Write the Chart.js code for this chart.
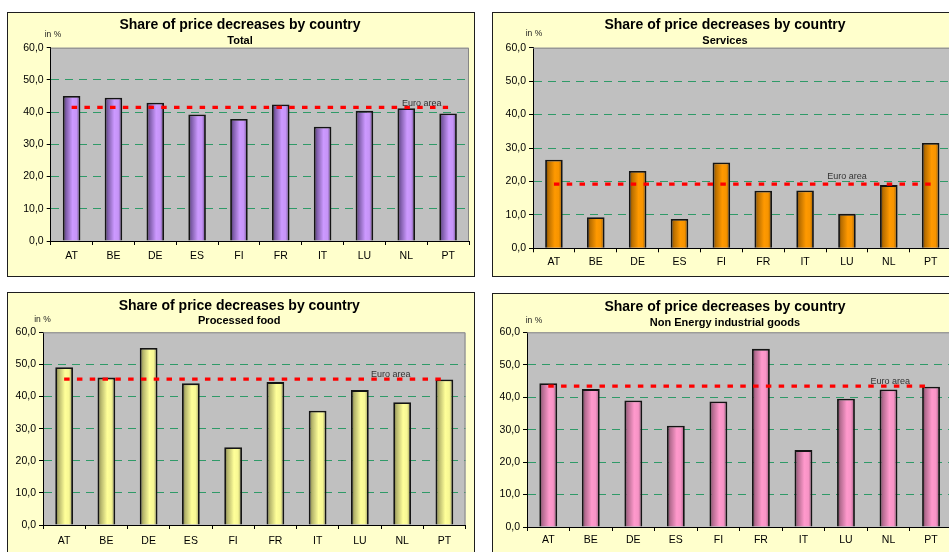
<!DOCTYPE html>
<html>
<head>
<meta charset="utf-8">
<script src="https://cdn.jsdelivr.net/npm/chart.js@4/dist/chart.umd.min.js"></script>
<style>
  html, body { margin: 0; padding: 0; background: #ffffff; overflow: hidden; }
  body { width: 949px; height: 552px; position: relative; font-family: "Liberation Sans", Arial, sans-serif; }
  .panel { position: absolute; box-sizing: border-box; border: 1px solid #1e1e1e; background: #ffffcc; }
  .panel .box { position: absolute; left: -1px; top: -1px; }
  .txt { position: absolute; transform: translate(-50%, -50%); white-space: nowrap; color: #000; }
  .title { font-weight: bold; font-size: 14px; }
  .sub { font-weight: bold; font-size: 11px; }
  .unit { font-size: 8.5px; color: #222; }
</style>
</head>
<body>
<script>
// Share of price decreases by country, four product groups
const countries = ['AT', 'BE', 'DE', 'ES', 'FI', 'FR', 'IT', 'LU', 'NL', 'PT'];
const yTickValues = [0, 10, 20, 30, 40, 50, 60];

const totalShares         = [45.0, 44.5, 42.9, 39.3, 37.9, 42.4, 35.5, 40.4, 41.2, 39.6];
const totalEuroArea       = [41.5];

const servicesShares      = [26.5, 9.3, 23.1, 8.8, 25.7, 17.2, 17.3, 10.3, 18.9, 31.5];
const servicesEuroArea    = [19.2];

const processedFoodShares = [49.1, 45.9, 55.1, 44.1, 24.2, 44.5, 35.6, 42.0, 38.2, 45.3];
const processedFoodEuroArea = [45.4];

const nonEnergyShares     = [44.3, 42.5, 39.0, 31.2, 38.7, 54.9, 23.7, 39.5, 42.4, 43.2];
const nonEnergyEuroArea   = [43.4];

const BAR_RATIO = 0.42;

// cylinder-like horizontal shading for each bar
function barFill(stops) {
  return (c) => {
    const chart = c.chart;
    const xs = chart.scales && chart.scales.x;
    if (c.type !== 'data' || !xs) return stops[2][1];
    const cx = xs.getPixelForValue(c.dataIndex);
    const half = (xs.width / countries.length) * BAR_RATIO / 2;
    if (!isFinite(cx) || !isFinite(half) || half <= 0) return stops[2][1];
    const g = chart.ctx.createLinearGradient(cx - half, 0, cx + half, 0);
    stops.forEach(([p, col]) => g.addColorStop(p, col));
    return g;
  };
}

const palettes = {
  purple: [[0, '#3f2a55'], [0.18, '#7d5ca8'], [0.55, '#cc99ff'], [0.78, '#c694f7'], [1, '#5e4680']],
  orange: [[0, '#5c3300'], [0.18, '#b86e00'], [0.55, '#ff9900'], [0.78, '#f79400'], [1, '#8a5200']],
  yellow: [[0, '#5e5e2e'], [0.18, '#b3b36b'], [0.55, '#ffff99'], [0.78, '#f7f794'], [1, '#8a8a52']],
  pink:   [[0, '#5c3347'], [0.18, '#b36b8f'], [0.55, '#ff99cc'], [0.78, '#f794c6'], [1, '#8a5270']]
};

// grey plot area with frame on the top and right edges
const plotFrame = {
  id: 'plotFrame',
  beforeDraw(chart) {
    const { ctx, chartArea: a } = chart;
    ctx.save();
    ctx.fillStyle = '#c0c0c0';
    ctx.fillRect(a.left, a.top, a.right - a.left, a.bottom - a.top);
    ctx.restore();
  },
  beforeDatasetsDraw(chart) {
    const { ctx, chartArea: a } = chart;
    ctx.save();
    ctx.strokeStyle = '#858585';
    ctx.lineWidth = 1;
    ctx.beginPath();
    ctx.moveTo(a.left, a.top + 0.5);
    ctx.lineTo(a.right - 0.5, a.top + 0.5);
    ctx.lineTo(a.right - 0.5, a.bottom);
    ctx.stroke();
    ctx.restore();
  }
};

// "Euro area" caption next to the average line
const euroLabel = {
  id: 'euroLabel',
  afterDatasetsDraw(chart, args, opts) {
    const xs = chart.scales.x, ys = chart.scales.y;
    const value = chart.data.datasets[0].data[0].y;
    const step = xs.width / countries.length;
    const x = xs.getPixelForValue(0) + opts.at * step;
    const y = ys.getPixelForValue(value) + opts.dy;
    const ctx = chart.ctx;
    ctx.save();
    ctx.font = '9px "Liberation Sans", Arial, sans-serif';
    ctx.fillStyle = '#333';
    ctx.textAlign = 'center';
    ctx.textBaseline = 'middle';
    ctx.fillText('Euro area', x, y);
    ctx.restore();
  }
};

function fmt(v) { return v.toFixed(1).replace('.', ','); }

function makePanel(p) {
  const panel = document.createElement('div');
  panel.className = 'panel';
  panel.style.left = p.left + 'px';
  panel.style.top = p.top + 'px';
  panel.style.width = p.w + 'px';
  panel.style.height = p.h + 'px';
  document.body.appendChild(panel);

  const box = document.createElement('div');
  box.className = 'box';
  box.style.width = p.w + 'px';
  box.style.height = p.h + 'px';
  const cv = document.createElement('canvas');
  box.appendChild(cv);
  panel.appendChild(box);

  const addText = (cls, text, x, y) => {
    const d = document.createElement('div');
    d.className = 'txt ' + cls;
    d.textContent = text;
    d.style.left = (x - p.left) + 'px';
    d.style.top = (y - p.top) + 'px';
    box.appendChild(d);
  };
  addText('title', 'Share of price decreases by country', p.titleX, p.titleY);
  addText('sub', p.subtitle, p.titleX, p.subY);
  addText('unit', 'in %', p.unitX, p.unitY);

  const tickFont = { family: '"Liberation Sans", Arial, sans-serif', size: 10.5 };

  new Chart(cv, {
    type: 'bar',
    data: {
      labels: countries,
      datasets: [
        {
          type: 'line',
          label: 'Euro area',
          data: [{ x: countries[0], y: p.euro[0] }, { x: countries[countries.length - 1], y: p.euro[0] }],
          borderColor: '#ff0000',
          borderWidth: 3.2,
          borderDash: [5.5, 7.3],
          borderCapStyle: 'butt',
          pointRadius: 0,
          fill: false,
          order: 0
        },
        {
          label: p.subtitle,
          data: p.values,
          backgroundColor: barFill(p.colors),
          borderColor: '#141414',
          borderWidth: 1.8,
          barPercentage: BAR_RATIO,
          categoryPercentage: 1,
          order: 1
        }
      ]
    },
    options: {
      responsive: true,
      maintainAspectRatio: false,
      animation: false,
      events: [],
      layout: { padding: { left: 0, top: p.pad.top, right: p.pad.right, bottom: 0 } },
      plugins: {
        legend: { display: false },
        tooltip: { enabled: false },
        title: { display: false },
        euroLabel: { at: p.labelAt, dy: p.labelDy }
      },
      scales: {
        x: {
          offset: true,
          grid: { display: true, offset: true, drawOnChartArea: false, drawTicks: true, tickLength: 4, tickColor: '#000', color: '#000' },
          border: { display: true, color: '#000', width: 1 },
          ticks: { font: tickFont, color: '#000', padding: p.xPad, maxRotation: 0 },
          afterFit(s) { s.height = p.xH; }
        },
        y: {
          min: 0,
          max: 60,
          afterBuildTicks(s) { s.ticks = yTickValues.map(v => ({ value: v })); },
          grid: {
            color: (c) => (c.tick && (c.tick.value === 0 || c.tick.value === 60)) ? 'rgba(0,0,0,0)' : '#2f9a68',
            tickColor: '#000',
            tickLength: 4,
            lineWidth: 1
          },
          border: { display: true, color: '#000', width: 1, dash: [8, 6] },
          ticks: { font: tickFont, color: '#000', padding: 3, callback: (v) => fmt(v) },
          afterFit(s) { s.width = p.yW; }
        }
      }
    },
    plugins: [plotFrame, euroLabel]
  });
}

makePanel({
  left: 7, top: 12, w: 468, h: 265,
  subtitle: 'Total', values: totalShares, euro: totalEuroArea, colors: palettes.purple,
  pad: { top: 35.7, right: 6 }, yW: 43.7, xH: 36, xPad: 4.7,
  titleX: 240, titleY: 24, subY: 40, unitX: 53, unitY: 33.5,
  labelAt: 8.37, labelDy: -4
});
makePanel({
  left: 492, top: 12, w: 467, h: 265,
  subtitle: 'Services', values: servicesShares, euro: servicesEuroArea, colors: palettes.orange,
  pad: { top: 35.7, right: 7.4 }, yW: 41, xH: 28.7, xPad: 3.7,
  titleX: 725, titleY: 24, subY: 40, unitX: 534, unitY: 33,
  labelAt: 7.0, labelDy: -8
});
makePanel({
  left: 7, top: 292, w: 468, h: 265,
  subtitle: 'Processed food', values: processedFoodShares, euro: processedFoodEuroArea, colors: palettes.yellow,
  pad: { top: 40.3, right: 9.5 }, yW: 36, xH: 32, xPad: 5.4,
  titleX: 239.3, titleY: 305, subY: 320, unitX: 42.5, unitY: 319.3,
  labelAt: 7.73, labelDy: -5
});
makePanel({
  left: 492, top: 293, w: 467, h: 265,
  subtitle: 'Non Energy industrial goods', values: nonEnergyShares, euro: nonEnergyEuroArea, colors: palettes.pink,
  pad: { top: 39.3, right: 6.7 }, yW: 35, xH: 31, xPad: 2.7,
  titleX: 725, titleY: 306, subY: 322.3, unitX: 534, unitY: 320,
  labelAt: 8.04, labelDy: -4.6
});
</script>
</body>
</html>
